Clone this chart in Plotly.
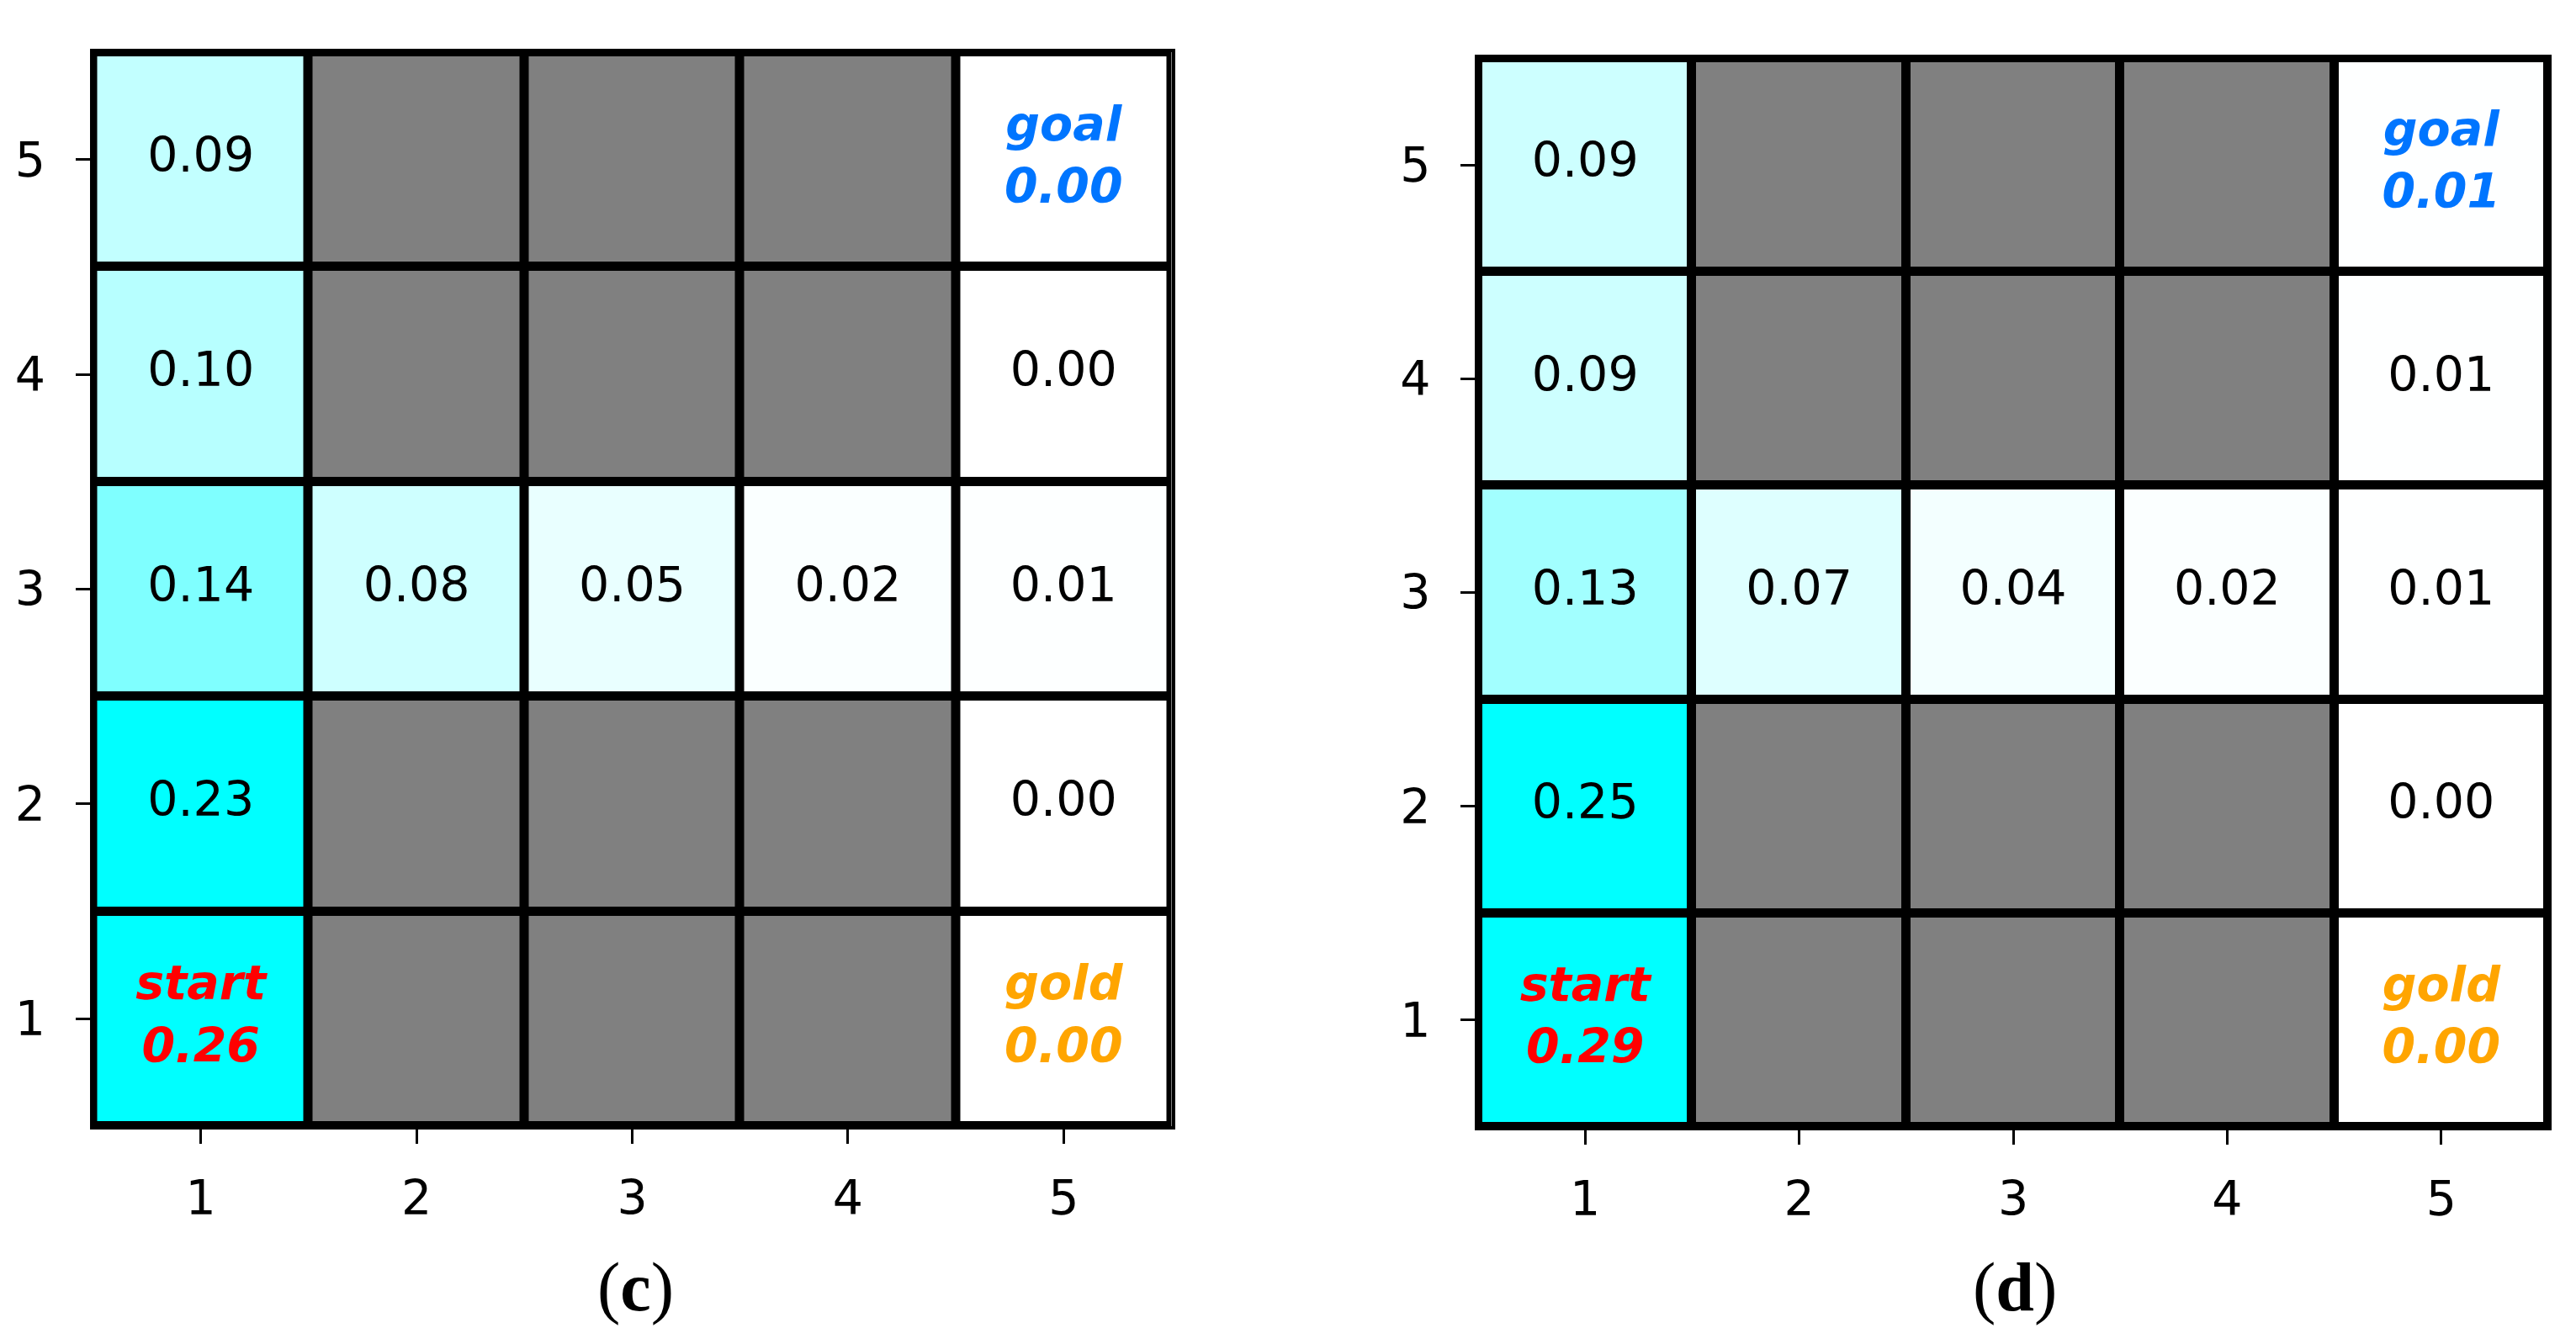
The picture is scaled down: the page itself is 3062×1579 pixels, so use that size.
import numpy as np
import plotly.graph_objects as go

W, H = 3062, 1579

cols = [1, 2, 3, 4, 5]
rows = [1, 2, 3, 4, 5]
tick_labels = ["1", "2", "3", "4", "5"]

# values per row (row 1 at bottom); None = wall
values_c = [
    [0.26, None, None, None, 0.00],
    [0.23, None, None, None, 0.00],
    [0.14, 0.08, 0.05, 0.02, 0.01],
    [0.10, None, None, None, 0.00],
    [0.09, None, None, None, 0.00],
]
values_d = [
    [0.29, None, None, None, 0.00],
    [0.25, None, None, None, 0.00],
    [0.13, 0.07, 0.04, 0.02, 0.01],
    [0.09, None, None, None, 0.01],
    [0.09, None, None, None, 0.01],
]
# special labelled cells: (col, row, label)
special_cells = [(1, 1, "start"), (5, 5, "goal"), (5, 1, "gold")]
special_colors = {"start": "#FF0000", "goal": "#0075FF", "gold": "#FFA500"}
captions = ["c", "d"]

# colour scale: white -> cyan (convex)
cscale = []
for t in np.linspace(0, 1, 41):
    r = int(round(255 * (1 - t ** 1.7)))
    cscale.append([float(t), f"rgb({r},255,255)"])

panels = [
    dict(vals=values_c, zmax=0.21, x=(102.5, 1384.5), y=(54, 1331), cap=(747, 1522)),
    dict(vals=values_d, zmax=0.235, x=(1749, 3021), y=(61, 1332), cap=(2387, 1522)),
]

fig = go.Figure()
FONT = "DejaVu Sans"

for i, p in enumerate(panels):
    xa = "x" if i == 0 else "x2"
    ya = "y" if i == 0 else "y2"
    z = [[np.nan if v is None else v for v in row] for row in p["vals"]]
    walls = [[1 if v is None else np.nan for v in row] for row in p["vals"]]
    fig.add_trace(go.Heatmap(x=cols, y=rows, z=z, zmin=0, zmax=p["zmax"],
                             colorscale=cscale, showscale=False, xgap=11, ygap=11,
                             hoverinfo="skip", xaxis=xa, yaxis=ya))
    fig.add_trace(go.Heatmap(x=cols, y=rows, z=walls, zmin=0, zmax=1,
                             colorscale=[[0, "#808080"], [1, "#808080"]], showscale=False,
                             xgap=11, ygap=11, hoverinfo="skip", xaxis=xa, yaxis=ya))
    specials = {(c, r): lab for c, r, lab in special_cells}
    tx, ty, tt = [], [], []
    sx, sy, st, sc = [], [], [], []
    for ri, row in enumerate(p["vals"]):
        for ci, v in enumerate(row):
            if v is None:
                continue
            c, r = cols[ci], rows[ri]
            if (c, r) in specials:
                lab = specials[(c, r)]
                sx.append(c); sy.append(r)
                st.append(f"<b><i>{lab}<br>{v:.2f}</i></b>")
                sc.append(special_colors[lab])
            else:
                tx.append(c); ty.append(r); tt.append(f"{v:.2f}")
    fig.add_trace(go.Scatter(x=tx, y=ty, text=tt, mode="text", textposition="middle center",
                             textfont=dict(family=FONT, size=57, color="black"),
                             hoverinfo="skip", showlegend=False, xaxis=xa, yaxis=ya))
    fig.add_trace(go.Scatter(x=sx, y=sy, text=st, mode="text", textposition="middle center",
                             textfont=dict(family=FONT, size=57, color=sc),
                             hoverinfo="skip", showlegend=False, xaxis=xa, yaxis=ya))
    ax = dict(range=[0.5, 5.5], tickvals=cols, ticktext=tick_labels, showgrid=False,
              zeroline=False, showline=True, mirror=True, linecolor="black", linewidth=4,
              ticks="outside", ticklen=17, tickwidth=3, tickcolor="black",
              tickfont=dict(family=FONT, size=57, color="black"), fixedrange=True)
    xd = [p["x"][0] / W, p["x"][1] / W]
    yd = [1 - p["y"][1] / H, 1 - p["y"][0] / H]
    fig.update_layout(**{
        ("xaxis" if i == 0 else "xaxis2"): dict(ax, domain=xd, anchor=ya, ticklabelstandoff=16),
        ("yaxis" if i == 0 else "yaxis2"): dict(ax, domain=yd, anchor=xa, ticklabelstandoff=24),
    })
    fig.add_annotation(x=p["cap"][0] / W, y=1 - p["cap"][1] / H, xref="paper", yref="paper",
                       text=f"(<b>{captions[i]}</b>)", showarrow=False,
                       xanchor="center", yanchor="middle",
                       font=dict(family="Liberation Serif", size=82, color="black"))

fig.update_layout(width=W, height=H, margin=dict(l=0, r=0, t=0, b=0),
                  paper_bgcolor="white", plot_bgcolor="black", showlegend=False)

fig.write_html("out.html", config={"displayModeBar": False})
